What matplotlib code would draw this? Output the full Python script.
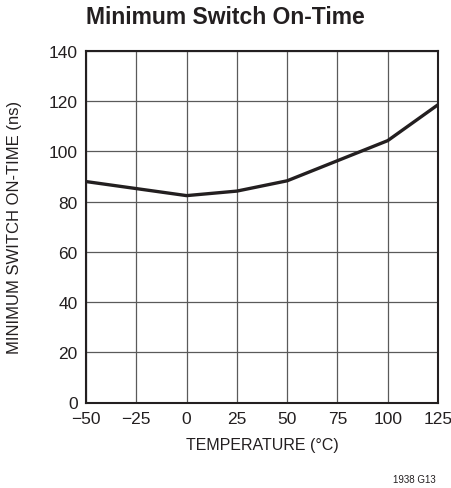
import matplotlib
matplotlib.use("Agg")
import matplotlib.pyplot as plt
from matplotlib import font_manager

names = {f.name for f in font_manager.fontManager.ttflist}
condensed = [f for f in ['Liberation Sans Narrow', 'Roboto Condensed', 'Open Sans Condensed',
                         'Arial Narrow', 'DejaVu Sans Condensed'] if f in names]
base = [f for f in ['Liberation Sans', 'DejaVu Sans'] if f in names]
plt.rcParams['font.family'] = base or ['DejaVu Sans']

temperature = [-50, -25, 0, 25, 50, 75, 100, 125]
on_time = [88, 85.2, 82.4, 84.2, 88.3, 96.3, 104.3, 118.6]
x_ticks = [-50, -25, 0, 25, 50, 75, 100, 125]
x_labels = ['\u221250', '\u221225', '0', '25', '50', '75', '100', '125']
y_ticks = [0, 20, 40, 60, 80, 100, 120, 140]

fig = plt.figure(figsize=(4.52, 4.89), dpi=100)
ax = fig.add_axes([86/452, 1-403.5/489, 352/452, 351.5/489])
ax.plot(temperature, on_time, color='#231f20', lw=2.4, solid_joinstyle='miter', zorder=3)
ax.set_xlim(-50, 125)
ax.set_ylim(0, 140)
ax.set_xticks(x_ticks)
ax.set_xticklabels(x_labels)
ax.set_yticks(y_ticks)
ax.grid(True, color='#5a5a5a', lw=0.9)
ax.tick_params(length=0, labelsize=12.5, pad=6, colors='#231f20')
for s in ax.spines.values():
    s.set_linewidth(1.5)
    s.set_color('#231f20')
ax.set_xlabel('TEMPERATURE (\u00b0C)', fontsize=11.5, color='#231f20', labelpad=8)
ax.set_ylabel('MINIMUM SWITCH ON-TIME (ns)', fontsize=12, color='#231f20', labelpad=19)
fig.text(86/452, 1-17/489, 'Minimum Switch On-Time', fontsize=16.5, fontweight='bold',
         color='#231f20', ha='left', va='center')
fig.text(436/452, 1-480/489, '1938 G13', fontsize=7, color='#231f20', ha='right', va='center')
fig.savefig('out.png', dpi=100)
